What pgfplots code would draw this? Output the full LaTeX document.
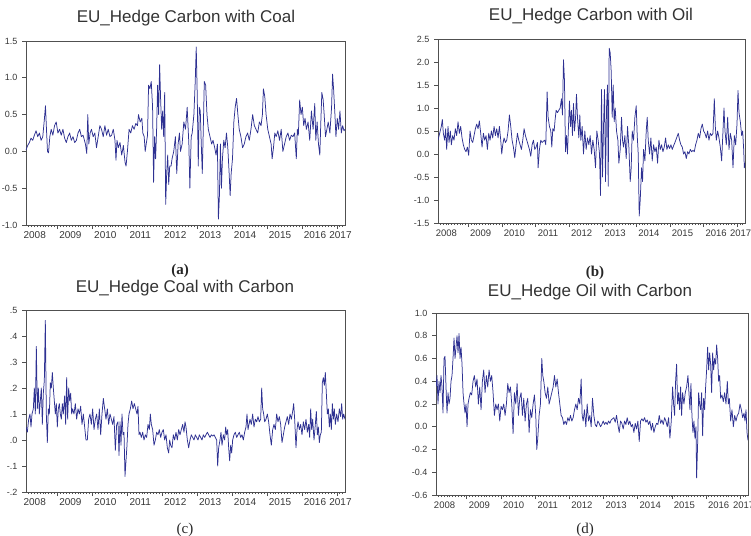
\documentclass[border=0pt]{standalone}
\usepackage{fontspec}
\setmainfont{Liberation Sans}
\newfontfamily\seriffont{Liberation Serif}
\usepackage{pgfplots}
\usepackage{pgfplotstable}
\pgfplotsset{compat=1.18}
\definecolor{sercol}{RGB}{46,49,146}
\definecolor{frm}{RGB}{80,80,80}
\definecolor{txt}{RGB}{55,55,55}

\pgfplotstableread[row sep=\\]{X Y\\
85 0.02\\ 90 0.08\\ 95 0.12\\ 100 0.18\\ 105 0.15\\ 110 0.22\\ 115 0.28\\ 120 0.20\\ 125 0.25\\ 130 0.15\\ 135 0.2\\ 140 0.45\\ 143 0.62\\ 146 0.3\\ 149 0.0\\ 152 -0.02\\ 156 0.2\\ 160 0.3\\ 165 0.22\\ 170 0.35\\ 175 0.40\\ 180 0.25\\ 185 0.3\\ 190 0.22\\ 195 0.3\\ 200 0.18\\ 205 0.12\\ 210 0.2\\ 215 0.25\\ 220 0.15\\ 225 0.2\\ 230 0.12\\ 235 0.15\\ 240 0.25\\ 245 0.3\\ 250 0.2\\ 255 0.22\\ 262 0.1\\ 266 -0.03\\ 269 0.5\\ 272 0.1\\ 276 0.25\\ 280 0.3\\ 285 0.2\\ 290 0.25\\ 295 0.05\\ 300 0.2\\ 305 0.35\\ 310 0.3\\ 315 0.2\\ 320 0.35\\ 325 0.22\\ 330 0.3\\ 335 0.2\\ 340 0.22\\ 345 0.3\\ 350 0.15\\ 353 -0.12\\ 356 0.15\\ 360 0.05\\ 365 0.12\\ 370 -0.05\\ 375 0.08\\ 380 -0.15\\ 383 -0.2\\ 387 0.0\\ 392 0.3\\ 397 0.25\\ 402 0.35\\ 407 0.3\\ 412 0.38\\ 417 0.35\\ 420 0.5\\ 425 0.4\\ 430 0.45\\ 433 0.25\\ 437 0.2\\ 440 0.0\\ 443 0.1\\ 447 0.22\\ 450 0.9\\ 454 0.85\\ 458 0.95\\ 462 0.6\\ 465 -0.42\\ 468 0.2\\ 471 -0.1\\ 474 0.3\\ 477 0.9\\ 480 0.5\\ 483 1.18\\ 486 0.7\\ 489 0.3\\ 492 0.55\\ 495 0.2\\ 498 0.8\\ 501 -0.72\\ 504 -0.3\\ 507 -0.05\\ 510 -0.45\\ 513 -0.2\\ 517 -0.2\\ 520 -0.1\\ 525 0.0\\ 530 0.2\\ 534 -0.3\\ 538 0.1\\ 542 0.25\\ 545 0.0\\ 550 0.1\\ 555 0.4\\ 560 0.3\\ 565 0.6\\ 570 0.1\\ 573 -0.5\\ 577 0.2\\ 580 0.25\\ 585 0.5\\ 589 0.95\\ 592 1.42\\ 595 0.75\\ 598 -0.2\\ 601 0.6\\ 604 0.55\\ 607 0.1\\ 610 -0.3\\ 613 0.3\\ 616 0.95\\ 620 0.9\\ 624 0.5\\ 628 0.3\\ 633 0.2\\ 638 0.1\\ 642 0.15\\ 647 0.05\\ 651 -0.05\\ 655 0.1\\ 658 -0.92\\ 661 -0.6\\ 664 0.1\\ 667 -0.5\\ 670 -0.1\\ 674 0.15\\ 678 0.05\\ 682 0.25\\ 686 0.05\\ 690 -0.3\\ 693 -0.6\\ 696 -0.3\\ 700 -0.1\\ 704 0.4\\ 708 0.6\\ 712 0.72\\ 716 0.5\\ 720 0.3\\ 725 0.2\\ 730 0.05\\ 735 0.1\\ 740 0.2\\ 745 0.25\\ 750 0.15\\ 755 0.3\\ 760 0.5\\ 765 0.35\\ 770 0.3\\ 775 0.25\\ 780 0.4\\ 785 0.35\\ 789 0.5\\ 792 0.85\\ 796 0.75\\ 800 0.5\\ 805 0.3\\ 810 0.2\\ 815 0.1\\ 818 -0.1\\ 822 0.05\\ 826 0.25\\ 830 0.2\\ 835 0.28\\ 840 0.15\\ 845 0.3\\ 850 0.0\\ 855 0.1\\ 860 0.2\\ 865 0.25\\ 870 0.15\\ 875 0.22\\ 880 0.2\\ 885 0.25\\ 890 -0.1\\ 893 0.3\\ 896 0.22\\ 900 0.7\\ 904 0.5\\ 908 0.6\\ 912 0.35\\ 916 0.45\\ 920 0.3\\ 925 0.4\\ 930 0.15\\ 935 0.55\\ 940 0.3\\ 945 0.65\\ 948 0.15\\ 952 0.4\\ 956 0.1\\ 960 -0.05\\ 963 0.4\\ 966 0.8\\ 970 0.7\\ 973 0.5\\ 977 0.2\\ 981 0.3\\ 985 0.4\\ 990 0.25\\ 995 0.6\\ 998 1.05\\ 1001 0.85\\ 1005 0.5\\ 1008 0.2\\ 1012 0.45\\ 1016 0.3\\ 1020 0.55\\ 1024 0.25\\ 1028 0.35\\ 1032 0.28\\ 1035 0.3\\
}\dataA

\pgfplotstableread[row sep=\\]{X Y\\
190 0.3\\ 195 0.45\\ 200 0.6\\ 203 0.75\\ 206 0.45\\ 210 0.3\\ 213 0.55\\ 216 0.1\\ 220 0.6\\ 223 0.25\\ 227 0.5\\ 230 0.2\\ 234 0.4\\ 238 0.3\\ 242 0.55\\ 246 0.4\\ 250 0.7\\ 254 0.45\\ 258 0.6\\ 262 0.35\\ 266 0.2\\ 270 0.1\\ 274 0.05\\ 278 0.15\\ 282 -0.03\\ 286 0.5\\ 290 0.3\\ 294 0.25\\ 298 0.4\\ 302 0.55\\ 306 0.65\\ 310 0.55\\ 314 0.72\\ 318 0.45\\ 322 0.15\\ 326 0.45\\ 330 0.3\\ 334 0.4\\ 338 0.1\\ 342 0.45\\ 346 0.3\\ 350 0.5\\ 354 0.35\\ 358 0.6\\ 362 0.4\\ 366 0.55\\ 370 0.35\\ 374 0.6\\ 378 0.3\\ 381 0.0\\ 384 0.2\\ 388 0.35\\ 392 0.25\\ 396 0.3\\ 400 0.5\\ 404 0.85\\ 408 0.6\\ 412 0.3\\ 416 0.15\\ 420 -0.08\\ 424 0.2\\ 428 0.45\\ 432 0.3\\ 436 0.2\\ 440 0.1\\ 444 0.3\\ 448 0.55\\ 452 0.4\\ 456 0.3\\ 460 0.2\\ 464 0.1\\ 468 -0.05\\ 472 0.2\\ 476 0.3\\ 480 0.1\\ 484 0.15\\ 488 0.25\\ 490 -0.3\\ 494 0.1\\ 498 0.3\\ 502 0.25\\ 506 0.28\\ 510 0.3\\ 513 0.2\\ 517 1.35\\ 520 0.8\\ 524 0.6\\ 528 0.5\\ 531 0.15\\ 534 0.55\\ 538 0.5\\ 541 0.75\\ 544 0.95\\ 548 0.9\\ 552 0.95\\ 556 1.0\\ 560 1.2\\ 563 0.85\\ 566 2.05\\ 569 1.6\\ 572 0.05\\ 575 0.4\\ 578 0.0\\ 581 0.6\\ 584 1.15\\ 587 0.6\\ 590 0.95\\ 593 0.4\\ 596 1.1\\ 599 0.5\\ 602 0.75\\ 605 1.3\\ 608 0.8\\ 612 0.35\\ 615 0.85\\ 618 0.3\\ 622 0.6\\ 626 0.0\\ 630 0.5\\ 634 0.1\\ 638 0.35\\ 642 0.2\\ 646 0.4\\ 650 0.0\\ 654 0.3\\ 658 0.1\\ 662 -0.3\\ 666 0.5\\ 670 0.3\\ 674 0.0\\ 677 -0.9\\ 680 1.4\\ 683 -0.5\\ 686 0.6\\ 689 1.4\\ 692 -0.6\\ 695 1.0\\ 698 1.5\\ 700 -0.7\\ 703 2.3\\ 706 2.2\\ 709 1.8\\ 712 0.8\\ 715 1.5\\ 718 0.7\\ 721 1.0\\ 725 0.5\\ 729 0.3\\ 732 -0.2\\ 736 0.1\\ 740 0.8\\ 743 0.3\\ 746 0.15\\ 750 0.4\\ 754 -0.1\\ 758 0.6\\ 762 0.15\\ 766 -0.6\\ 769 -0.3\\ 772 0.5\\ 776 0.3\\ 780 0.8\\ 784 1.05\\ 787 0.4\\ 790 0.0\\ 793 -1.35\\ 796 -1.0\\ 800 -0.3\\ 803 -0.6\\ 806 0.1\\ 810 -0.15\\ 814 0.5\\ 817 0.8\\ 820 0.3\\ 824 0.0\\ 828 0.35\\ 832 -0.15\\ 836 0.2\\ 840 0.05\\ 844 0.15\\ 848 -0.2\\ 852 0.3\\ 856 0.1\\ 860 0.2\\ 864 0.05\\ 868 0.15\\ 872 0.35\\ 876 0.1\\ 880 0.2\\ 884 0.12\\ 888 0.2\\ 892 0.1\\ 896 0.18\\ 900 0.25\\ 905 0.35\\ 910 0.45\\ 914 0.3\\ 918 0.2\\ 922 0.15\\ 926 0.0\\ 930 0.05\\ 934 -0.1\\ 938 0.05\\ 942 0.0\\ 946 0.1\\ 950 0.05\\ 954 0.08\\ 958 0.05\\ 962 0.2\\ 966 0.3\\ 970 0.45\\ 974 0.35\\ 978 0.55\\ 982 0.65\\ 986 0.5\\ 990 0.45\\ 994 0.35\\ 998 0.5\\ 1002 0.3\\ 1006 0.45\\ 1010 0.4\\ 1014 0.45\\ 1018 1.2\\ 1021 0.6\\ 1024 0.3\\ 1028 0.5\\ 1032 0.35\\ 1036 0.15\\ 1040 -0.15\\ 1044 0.5\\ 1047 1.0\\ 1050 0.5\\ 1054 0.2\\ 1058 0.8\\ 1062 0.1\\ 1066 0.45\\ 1070 0.3\\ 1074 -0.3\\ 1078 0.4\\ 1082 0.2\\ 1086 0.65\\ 1089 1.38\\ 1092 0.9\\ 1096 0.7\\ 1100 0.4\\ 1103 0.5\\ 1106 0.1\\ 1108 -0.3\\ 1110 -0.2\\
}\dataB

\pgfplotstableread[row sep=\\]{X Y\\
78 0.05\\ 82 0.03\\ 86 0.08\\ 90 0.1\\ 93 0.05\\ 96 0.1\\ 100 0.12\\ 103 0.2\\ 106 0.1\\ 109 0.36\\ 112 0.12\\ 115 0.2\\ 118 0.1\\ 121 0.15\\ 124 0.2\\ 127 0.06\\ 130 0.18\\ 133 0.23\\ 136 0.46\\ 139 0.1\\ 142 -0.01\\ 145 0.12\\ 148 0.1\\ 151 0.22\\ 154 0.2\\ 157 0.26\\ 160 0.2\\ 163 0.15\\ 166 0.1\\ 169 0.14\\ 172 0.05\\ 175 0.12\\ 178 0.14\\ 181 0.1\\ 184 0.08\\ 187 0.14\\ 190 0.1\\ 194 0.17\\ 197 0.06\\ 200 0.24\\ 203 0.08\\ 206 0.2\\ 209 0.15\\ 212 0.18\\ 215 0.1\\ 218 0.12\\ 222 0.1\\ 226 0.14\\ 230 0.08\\ 234 0.12\\ 238 0.1\\ 242 0.13\\ 246 0.06\\ 250 0.1\\ 254 0.05\\ 258 0.0\\ 262 0.0\\ 266 0.08\\ 270 0.1\\ 274 0.06\\ 278 0.12\\ 282 0.04\\ 286 0.08\\ 290 0.1\\ 294 0.04\\ 298 0.12\\ 302 0.02\\ 306 0.1\\ 310 0.16\\ 314 0.12\\ 318 0.08\\ 322 0.12\\ 326 0.06\\ 330 0.1\\ 334 0.08\\ 338 0.06\\ 342 0.09\\ 346 -0.04\\ 350 0.06\\ 354 0.07\\ 357 -0.06\\ 360 0.07\\ 363 -0.02\\ 366 0.1\\ 369 0.02\\ 372 0.03\\ 375 -0.14\\ 378 -0.08\\ 381 -0.02\\ 384 0.06\\ 387 0.1\\ 391 0.12\\ 395 0.15\\ 399 0.12\\ 403 0.14\\ 407 0.12\\ 411 0.1\\ 414 0.13\\ 417 0.02\\ 420 0.03\\ 424 0.01\\ 428 0.03\\ 432 0.0\\ 436 0.02\\ 440 0.01\\ 444 0.06\\ 448 0.04\\ 451 0.1\\ 454 0.06\\ 458 0.04\\ 462 -0.02\\ 466 0.0\\ 470 0.03\\ 474 0.02\\ 478 0.04\\ 482 0.01\\ 486 0.03\\ 490 0.04\\ 494 0.0\\ 498 0.02\\ 502 -0.03\\ 506 -0.05\\ 509 0.0\\ 512 -0.02\\ 516 -0.03\\ 520 0.02\\ 524 0.0\\ 528 0.03\\ 532 0.0\\ 536 0.04\\ 540 0.02\\ 544 0.04\\ 548 0.06\\ 552 0.03\\ 555 0.07\\ 558 0.05\\ 562 0.0\\ 566 -0.03\\ 570 0.0\\ 574 0.02\\ 578 0.01\\ 582 0.0\\ 586 0.02\\ 590 0.01\\ 594 0.0\\ 598 0.02\\ 602 0.01\\ 606 0.0\\ 610 0.02\\ 614 0.01\\ 618 0.02\\ 622 0.03\\ 626 0.02\\ 630 0.01\\ 634 0.02\\ 638 0.015\\ 642 0.02\\ 646 0.01\\ 650 0.0\\ 653 -0.1\\ 656 -0.03\\ 660 0.0\\ 663 0.03\\ 666 -0.02\\ 670 0.02\\ 674 0.0\\ 677 0.05\\ 680 0.02\\ 683 0.04\\ 686 -0.03\\ 689 -0.08\\ 692 -0.02\\ 695 -0.05\\ 698 0.0\\ 702 0.02\\ 706 0.03\\ 710 0.01\\ 714 0.02\\ 718 0.03\\ 722 0.01\\ 726 0.02\\ 730 0.0\\ 734 0.03\\ 738 0.05\\ 741 0.1\\ 744 0.04\\ 747 0.06\\ 750 0.08\\ 754 0.06\\ 758 0.1\\ 762 0.05\\ 766 0.08\\ 770 0.07\\ 774 0.09\\ 778 0.07\\ 782 0.08\\ 785 0.2\\ 788 0.12\\ 791 0.1\\ 794 0.07\\ 798 0.08\\ 802 0.1\\ 806 0.07\\ 810 0.02\\ 814 -0.02\\ 818 0.04\\ 822 0.06\\ 826 0.04\\ 830 0.1\\ 834 0.07\\ 838 0.09\\ 842 0.06\\ 846 -0.01\\ 850 0.02\\ 854 0.05\\ 858 0.07\\ 862 0.09\\ 866 0.06\\ 870 0.1\\ 874 0.08\\ 878 0.11\\ 881 0.14\\ 884 0.08\\ 888 -0.03\\ 891 0.04\\ 894 0.07\\ 898 0.04\\ 902 0.06\\ 906 0.02\\ 910 0.07\\ 914 0.04\\ 918 0.08\\ 922 0.03\\ 926 0.06\\ 929 0.01\\ 932 0.12\\ 935 0.04\\ 938 0.08\\ 942 0.0\\ 946 0.06\\ 949 0.11\\ 952 0.02\\ 955 0.05\\ 958 -0.01\\ 961 0.02\\ 964 0.03\\ 967 0.22\\ 970 0.24\\ 973 0.21\\ 976 0.26\\ 979 0.18\\ 982 0.1\\ 985 0.12\\ 988 0.05\\ 991 0.1\\ 994 0.04\\ 997 0.14\\ 1000 0.08\\ 1003 0.12\\ 1006 0.06\\ 1010 0.1\\ 1014 0.07\\ 1018 0.12\\ 1022 0.09\\ 1025 0.14\\ 1028 0.08\\ 1031 0.1\\ 1035 0.08\\
}\dataC

\pgfplotstableread[row sep=\\]{X Y\\
183 0.35\\ 186 0.45\\ 189 0.2\\ 192 0.4\\ 195 0.3\\ 198 0.45\\ 201 0.35\\ 204 0.12\\ 207 0.6\\ 210 0.62\\ 213 0.35\\ 216 0.12\\ 219 0.3\\ 222 0.2\\ 225 0.25\\ 228 0.4\\ 231 0.45\\ 234 0.6\\ 237 0.78\\ 240 0.6\\ 243 0.7\\ 246 0.8\\ 249 0.65\\ 252 0.82\\ 255 0.6\\ 258 0.7\\ 261 0.55\\ 264 0.3\\ 267 0.2\\ 270 0.12\\ 273 0.2\\ 276 0.0\\ 279 0.2\\ 282 0.25\\ 286 0.3\\ 290 0.28\\ 294 0.4\\ 298 0.45\\ 302 0.35\\ 306 0.42\\ 310 0.2\\ 314 0.35\\ 318 0.15\\ 322 0.4\\ 326 0.5\\ 330 0.3\\ 334 0.45\\ 338 0.35\\ 342 0.5\\ 346 0.4\\ 350 0.45\\ 354 0.3\\ 358 0.1\\ 362 0.2\\ 366 0.15\\ 370 0.2\\ 374 0.05\\ 378 0.18\\ 382 0.15\\ 386 0.2\\ 390 0.1\\ 394 0.2\\ 398 0.38\\ 402 0.3\\ 406 0.35\\ 410 0.2\\ 414 -0.06\\ 418 0.3\\ 422 0.2\\ 426 0.38\\ 430 0.1\\ 434 0.25\\ 438 0.3\\ 442 0.1\\ 446 0.25\\ 450 0.05\\ 454 0.2\\ 458 0.25\\ 462 -0.05\\ 466 0.15\\ 470 0.08\\ 474 0.2\\ 478 0.28\\ 482 0.1\\ 485 -0.2\\ 488 -0.1\\ 492 0.1\\ 496 0.2\\ 500 0.6\\ 503 0.45\\ 506 0.4\\ 510 0.3\\ 514 0.25\\ 518 0.35\\ 522 0.2\\ 526 0.25\\ 530 0.3\\ 534 0.35\\ 538 0.45\\ 542 0.35\\ 546 0.42\\ 550 0.3\\ 554 0.2\\ 558 0.1\\ 562 0.08\\ 566 0.02\\ 570 0.05\\ 574 0.02\\ 578 0.08\\ 582 0.05\\ 586 0.1\\ 590 0.05\\ 594 0.08\\ 598 0.15\\ 602 0.2\\ 606 0.15\\ 610 0.25\\ 614 0.2\\ 618 0.42\\ 621 0.1\\ 624 0.05\\ 628 0.15\\ 632 0.0\\ 636 0.2\\ 640 0.05\\ 644 0.1\\ 648 0.0\\ 652 0.25\\ 656 0.1\\ 660 0.02\\ 664 0.0\\ 668 0.05\\ 672 0.03\\ 676 0.0\\ 680 0.02\\ 684 0.05\\ 688 0.02\\ 692 0.04\\ 696 0.02\\ 700 0.05\\ 704 0.03\\ 708 0.06\\ 712 0.07\\ 716 0.08\\ 720 0.04\\ 724 0.1\\ 728 0.02\\ 732 -0.05\\ 736 0.05\\ 740 0.03\\ 744 -0.02\\ 748 0.05\\ 752 0.02\\ 756 0.08\\ 760 0.02\\ 764 0.05\\ 768 0.0\\ 772 0.02\\ 776 -0.05\\ 780 0.03\\ 784 -0.02\\ 788 0.05\\ 792 -0.13\\ 796 0.05\\ 800 0.07\\ 804 0.05\\ 808 0.08\\ 812 0.04\\ 816 0.06\\ 820 0.02\\ 824 0.05\\ 828 -0.03\\ 832 0.03\\ 836 -0.05\\ 840 0.0\\ 844 0.03\\ 848 0.02\\ 852 0.1\\ 856 0.03\\ 860 0.06\\ 864 0.02\\ 868 0.08\\ 872 0.05\\ 876 0.0\\ 880 0.08\\ 884 -0.1\\ 888 0.05\\ 892 0.35\\ 895 0.2\\ 898 0.1\\ 901 0.4\\ 904 0.55\\ 907 0.2\\ 910 0.3\\ 913 0.15\\ 916 0.35\\ 919 0.1\\ 922 0.3\\ 926 0.2\\ 930 0.3\\ 934 0.35\\ 938 0.45\\ 941 0.3\\ 944 0.15\\ 947 0.38\\ 950 0.1\\ 953 -0.05\\ 956 0.05\\ 959 -0.1\\ 962 0.0\\ 964 -0.45\\ 967 -0.15\\ 970 0.3\\ 973 0.2\\ 976 0.15\\ 979 0.3\\ 982 -0.08\\ 985 0.25\\ 988 0.15\\ 991 0.35\\ 994 0.5\\ 997 0.7\\ 1000 0.5\\ 1003 0.65\\ 1006 0.55\\ 1009 0.3\\ 1012 0.65\\ 1015 0.5\\ 1018 0.6\\ 1021 0.55\\ 1024 0.72\\ 1027 0.6\\ 1030 0.4\\ 1033 0.45\\ 1036 0.25\\ 1040 0.28\\ 1044 0.22\\ 1048 0.3\\ 1052 0.2\\ 1056 0.4\\ 1059 0.2\\ 1062 0.25\\ 1066 0.05\\ 1070 0.15\\ 1074 0.0\\ 1078 0.1\\ 1082 0.05\\ 1086 0.1\\ 1090 0.12\\ 1094 0.2\\ 1098 0.15\\ 1102 0.08\\ 1106 0.12\\ 1109 0.05\\ 1112 0.15\\ 1115 -0.05\\ 1118 -0.12\\
}\dataD

\pgfplotsset{
  eviews/.style={
    scale only axis, anchor=north west,
    xmin=2008.10, xmax=2017.23,
    axis line style={frm, line width=0.8pt},
    every tick/.style={frm, line width=0.6pt},
    tick align=outside, xtick pos=bottom, ytick pos=left,
    major tick length=4pt, minor tick length=2.2pt,
    xtick={2009,2010,2011,2012,2013,2014,2015,2016,2017},
    xticklabels={},
    minor xtick={2008.1667,2008.25,...,2017.22},
    extra x ticks={2008.35,2009.37,2010.37,2011.37,2012.37,2013.37,2014.37,2015.37,2016.37,2017.1},
    extra x tick labels={2008,2009,2010,2011,2012,2013,2014,2015,2016,2017},
    extra x tick style={major tick length=0pt},
    ticklabel style={text=txt},
    xticklabel style={yshift=-3pt},
    yticklabel style={xshift=-1pt},
    clip=true,
  },
  serline/.style={sercol, line width=0.75pt, line join=round},
}

\begin{document}
\begin{tikzpicture}
\path[use as bounding box] (0,0) rectangle (751pt,-535pt);

% (a)
\begin{axis}[eviews, at={(26pt,-41pt)}, width=319pt, height=184pt,
  ymin=-1, ymax=1.5,
  ytick={-1,-0.5,0,0.5,1,1.5},
  yticklabels={-1.0,-0.5,0.0,0.5,1.0,1.5},
  xticklabel style={font=\fontsize{10}{11}\selectfont},
  yticklabel style={font=\fontsize{9}{10}\selectfont}]
\addplot[serline] table[x expr={2008.10+(\thisrowno{0}-85)*9.13/950}, y index=1] {\dataA};
\end{axis}

% (b)
\begin{axis}[eviews, at={(438pt,-39pt)}, width=307pt, height=184pt,
  ymin=-1.5, ymax=2.5,
  ytick={-1.5,-1,-0.5,0,0.5,1,1.5,2,2.5},
  yticklabels={-1.5,-1.0,-0.5,0.0,0.5,1.0,1.5,2.0,2.5},
  xticklabel style={font=\fontsize{9.5}{11}\selectfont},
  yticklabel style={font=\fontsize{9}{10}\selectfont}]
\addplot[serline] table[x expr={2008.10+(\thisrowno{0}-190)*9.13/920}, y index=1] {\dataB};
\end{axis}

% (c)
\begin{axis}[eviews, at={(26pt,-310pt)}, width=319pt, height=182pt,
  ymin=-0.2, ymax=0.5,
  ytick={-0.2,-0.1,0,0.1,0.2,0.3,0.4,0.5},
  yticklabels={-.2,-.1,.0,.1,.2,.3,.4,.5},
  xticklabel style={font=\fontsize{10}{11}\selectfont},
  yticklabel style={font=\fontsize{9}{10}\selectfont}]
\addplot[serline] table[x expr={2008.10+(\thisrowno{0}-78)*9.13/957}, y index=1] {\dataC};
\end{axis}

% (d)
\begin{axis}[eviews, at={(436pt,-313pt)}, width=312pt, height=182pt,
  ymin=-0.6, ymax=1.0,
  ytick={-0.6,-0.4,-0.2,0,0.2,0.4,0.6,0.8,1.0},
  yticklabels={-0.6,-0.4,-0.2,0.0,0.2,0.4,0.6,0.8,1.0},
  xticklabel style={font=\fontsize{9.5}{11}\selectfont},
  yticklabel style={font=\fontsize{9}{10}\selectfont}]
\addplot[serline] table[x expr={2008.10+(\thisrowno{0}-183)*9.13/935}, y index=1] {\dataD};
\end{axis}

% titles
\begin{scope}[every node/.style={anchor=base, text=black!80, font=\fontsize{17}{20}\selectfont}]
\node at (186pt,-23pt) {EU\_Hedge Carbon with Coal};
\node at (591pt,-21pt) {EU\_Hedge Carbon with Oil};
\node at (185pt,-292pt) {EU\_Hedge Coal with Carbon};
\node at (590pt,-296pt) {EU\_Hedge Oil with Carbon};
\end{scope}
% panel letters
\begin{scope}[every node/.style={anchor=base, text=black!85, font=\seriffont\fontsize{15}{17}\selectfont}]
\node at (180pt,-274pt) {\textbf{(a)}};
\node at (595pt,-276pt) {\textbf{(b)}};
\node at (185pt,-533pt) {(c)};
\node at (585pt,-533pt) {(d)};
\end{scope}
\end{tikzpicture}
\end{document}
